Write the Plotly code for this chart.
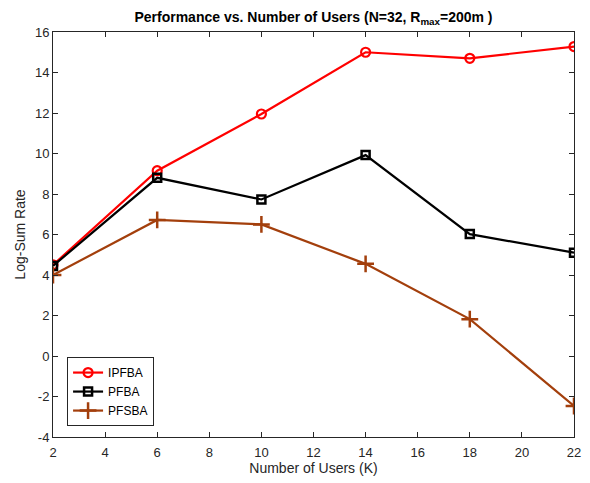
import plotly.graph_objects as go

users = [2, 6, 10, 14, 18, 22]
ipfba = [4.5, 9.15, 11.95, 15.0, 14.7, 15.28]
pfba = [4.45, 8.8, 7.73, 9.92, 6.02, 5.1]
pfsba = [4.0, 6.72, 6.5, 4.55, 1.82, -2.47]

x_ticks = list(range(2, 23, 2))
y_ticks = list(range(-4, 17, 2))

axis_col = "#262626"
font_fam = "Liberation Sans, Arial, sans-serif"

fig = go.Figure()
fig.add_trace(go.Scatter(x=users, y=ipfba, name="IPFBA", mode="lines+markers",
                         line=dict(color="#ff0000", width=2.2),
                         marker=dict(symbol="circle-open", size=9, color="#ff0000", line=dict(width=2.2))))
fig.add_trace(go.Scatter(x=users, y=pfba, name="PFBA", mode="lines+markers",
                         line=dict(color="#000000", width=2.2),
                         marker=dict(symbol="square-open", size=8, color="#000000", line=dict(width=2.5))))
fig.add_trace(go.Scatter(x=users, y=pfsba, name="PFSBA", mode="lines+markers",
                         line=dict(color="#a33f0c", width=2.2),
                         marker=dict(symbol="cross-thin-open", size=12, color="#a33f0c", line=dict(width=2.5))))

fig.update_layout(
    width=590, height=483,
    margin=dict(l=45, r=24, t=24, b=54, autoexpand=False),
    paper_bgcolor="white", plot_bgcolor="white",
    font=dict(family=font_fam, size=13, color=axis_col),
    title=dict(text="<b>Performance vs. Number of Users (N=32, R<sub>max</sub>=200m )</b>",
               x=0.5, xanchor="center", xref="paper", y=0.981, yanchor="middle",
               font=dict(size=14, color="#000000")),
    legend=dict(x=0.027, y=0.027, xanchor="left", yanchor="bottom",
                bgcolor="white", bordercolor=axis_col, borderwidth=1,
                font=dict(size=12, color="#000000"), tracegroupgap=0),
    showlegend=True,
)
fig.update_xaxes(range=[2, 22], tickvals=x_ticks, ticktext=[str(v) for v in x_ticks],
                 showgrid=False, zeroline=False, showline=True, linecolor=axis_col, linewidth=1,
                 mirror="allticks", ticks="inside", ticklen=5, tickcolor=axis_col,
                 ticklabelstandoff=3,
                 title=dict(text="Number of Users (K)", font=dict(size=14), standoff=4),
                 tickfont=dict(size=13))
fig.update_yaxes(range=[-4, 16], tickvals=y_ticks, ticktext=[str(v) for v in y_ticks],
                 showgrid=False, zeroline=False, showline=True, linecolor=axis_col, linewidth=1,
                 mirror="allticks", ticks="inside", ticklen=5, tickcolor=axis_col,
                 title=dict(text="Log-Sum Rate", font=dict(size=14), standoff=6),
                 tickfont=dict(size=13))

fig.write_html("out.html")
